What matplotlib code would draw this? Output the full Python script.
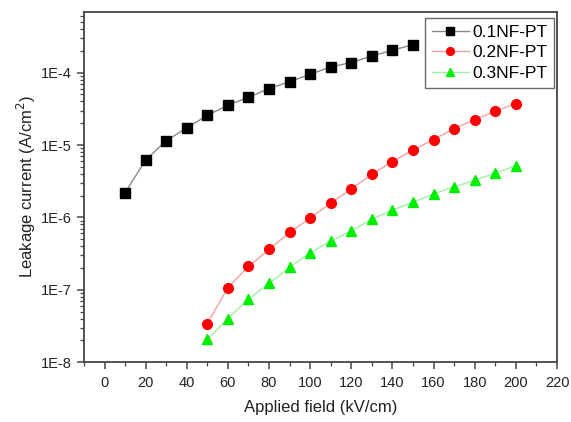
import matplotlib
matplotlib.use("Agg")
import matplotlib.pyplot as plt
from matplotlib.ticker import LogLocator, FuncFormatter, MultipleLocator, NullFormatter
import numpy as np

plt.rcParams['font.family'] = ['Liberation Sans', 'DejaVu Sans']

x1 = [10, 20, 30, 40, 50, 60, 70, 80, 90, 100, 110, 120, 130, 140, 150]
y1 = [2.2e-6, 6.2e-6, 1.15e-5, 1.72e-5, 2.58e-5, 3.55e-5, 4.57e-5, 6.03e-5,
      7.5e-5, 9.5e-5, 1.2e-4, 1.38e-4, 1.70e-4, 2.04e-4, 2.44e-4]

x2 = [50, 60, 70, 80, 90, 100, 110, 120, 130, 140, 150, 160, 170, 180, 190, 200]
y2 = [3.4e-8, 1.07e-7, 2.1e-7, 3.6e-7, 6.2e-7, 9.8e-7, 1.57e-6, 2.48e-6,
      3.95e-6, 5.9e-6, 8.55e-6, 1.19e-5, 1.69e-5, 2.25e-5, 2.93e-5, 3.74e-5]

x3 = [50, 60, 70, 80, 90, 100, 110, 120, 130, 140, 150, 160, 170, 180, 190, 200]
y3 = [2.06e-8, 4.0e-8, 7.4e-8, 1.22e-7, 2.03e-7, 3.24e-7, 4.7e-7, 6.5e-7,
      9.4e-7, 1.26e-6, 1.62e-6, 2.11e-6, 2.64e-6, 3.26e-6, 4.1e-6, 5.15e-6]

labels = ['0.1NF-PT', '0.2NF-PT', '0.3NF-PT']

fig = plt.figure(figsize=(5.71, 4.22), dpi=100)
ax = fig.add_axes([0.147, 0.142, 0.8285, 0.8296])

ax.plot(x1, y1, color='#888888', lw=1, marker='s', ms=6.5, mfc='black', mec='black', label=labels[0])
ax.plot(x2, y2, color='#f4a0a0', lw=1, marker='o', ms=7, mfc='#ff0000', mec='#ff0000', label=labels[1])
ax.plot(x3, y3, color='#a0f0a0', lw=1, marker='^', ms=7.5, mfc='#00ee00', mec='#00ee00', label=labels[2])

ax.set_yscale('log')
ax.set_xlim(-10, 220)
ax.set_ylim(1e-8, 6.9e-4)

ax.xaxis.set_major_locator(MultipleLocator(20))
ax.xaxis.set_minor_locator(MultipleLocator(10))
ax.yaxis.set_major_locator(LogLocator(base=10, numticks=20))
ax.yaxis.set_minor_locator(LogLocator(base=10, subs=np.arange(2, 10), numticks=20))
ax.yaxis.set_minor_formatter(NullFormatter())
ax.yaxis.set_major_formatter(FuncFormatter(lambda v, p: '1E%d' % int(round(np.log10(v)))))

for s in ax.spines.values():
    s.set_color('#444444')
    s.set_linewidth(1.3)

ax.tick_params(axis='both', which='major', direction='out', length=5, width=1.1, color='#444444', labelsize=10.5, labelcolor='#222222')
ax.tick_params(axis='both', which='minor', direction='out', length=3, width=0.9, color='#444444')
ax.tick_params(top=False, right=False, which='both')
ax.tick_params(axis='x', which='major', pad=5)

ax.set_xlabel('Applied field (kV/cm)', fontsize=12, color='#222222', labelpad=7)
ax.set_ylabel('Leakage current (A/cm$^2$)', fontsize=12, color='#222222', labelpad=2)

leg = ax.legend(loc='upper right', bbox_to_anchor=(0.994, 0.983), fontsize=12.5,
                frameon=True, fancybox=False, edgecolor='#444444', borderaxespad=0,
                handlelength=2.1, labelspacing=0.3, borderpad=0.4, handletextpad=0.2,
                markerscale=0.8)
leg.get_frame().set_linewidth(1.0)

fig.savefig('out.png', dpi=100)
